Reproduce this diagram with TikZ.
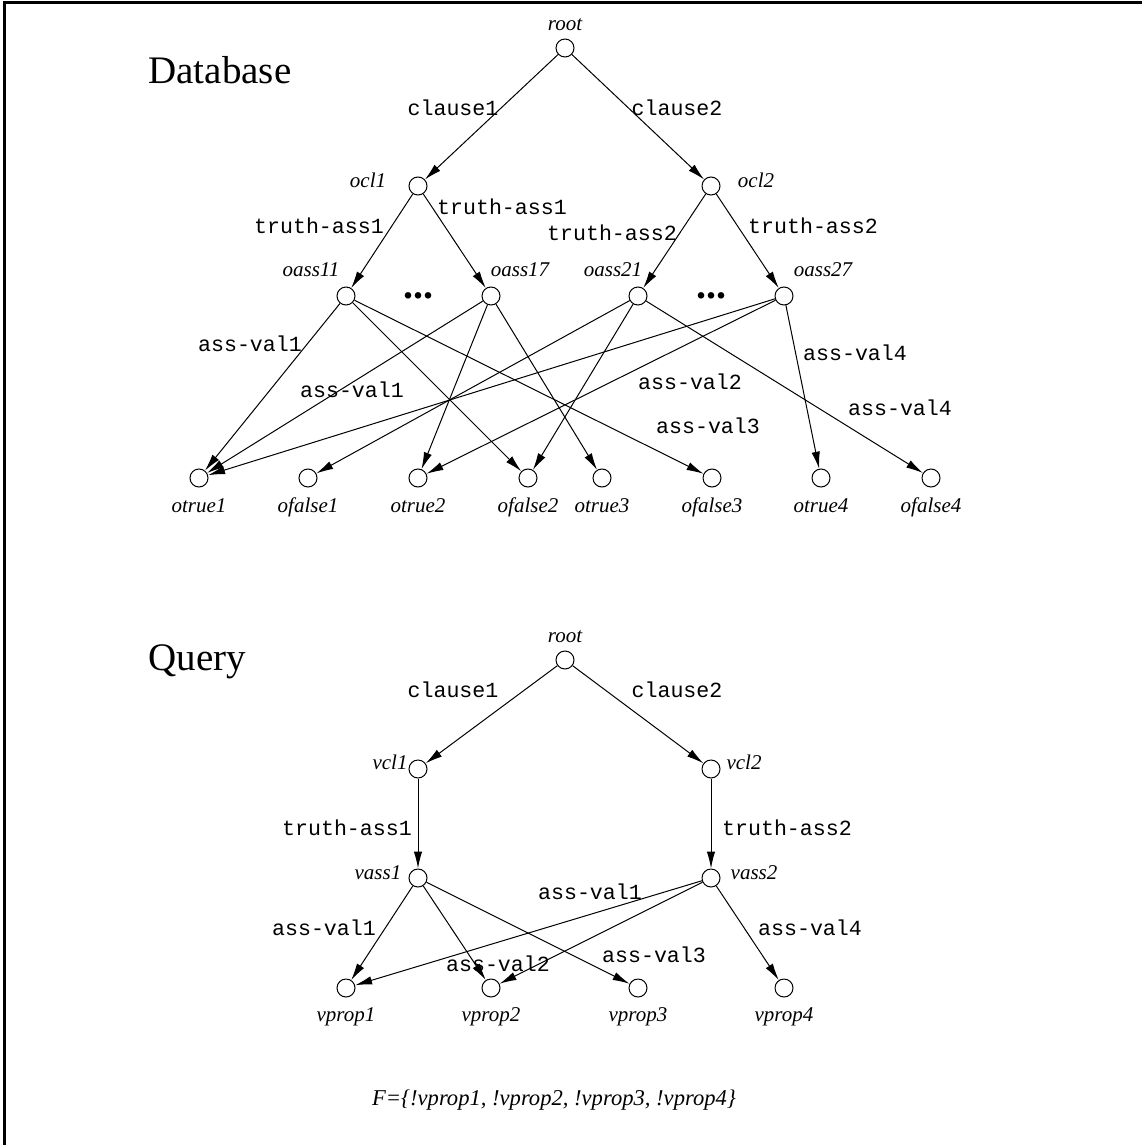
\documentclass[tikz,border=0pt]{standalone}
\usepackage{fontspec}
\setmainfont{Liberation Serif}
\setmonofont{Liberation Mono}
\usetikzlibrary{arrows.meta}

\tikzset{
  vtx/.style={circle, draw, line width=0.5pt, minimum size=9pt, inner sep=0pt},
  tag/.style={font=\fontsize{10.5}{12}\selectfont\itshape, inner sep=0pt,
    text height=1.5ex, text depth=.25ex},
  lbl/.style={font=\fontsize{10.8}{12}\selectfont\ttfamily, inner sep=0pt},
  heading/.style={font=\fontsize{19.5}{22}\selectfont, inner sep=0pt, anchor=base west},
  link/.style={->, line width=0.5pt},
}

\begin{document}
\begin{tikzpicture}[x=0.5pt, y=-0.5pt, >={Latex[length=8.5pt,width=4.2pt]}]
\useasboundingbox (0,0) rectangle (1142,1145);
\draw[line width=1.5pt] (4.5,1145) -- (4.5,3) -- (1142,3);

% database
\node[heading] (dbtitle) at (148,84) {Database};
\node[vtx] (droot) at (565,48) {};
\node[tag] at (565,25) {root};
\node[vtx] (ocl1) at (418,186) {};
\node[tag] at (368,182) {ocl1};
\node[vtx] (ocl2) at (711,186) {};
\node[tag] at (756,182) {ocl2};
\node[vtx] (oass11) at (346,296) {};
\node[tag] at (311,271) {oass11};
\node[vtx] (oass17) at (491,296) {};
\node[tag] at (520,271) {oass17};
\node[vtx] (oass21) at (638,296) {};
\node[tag] at (613,271) {oass21};
\node[vtx] (oass27) at (784,296) {};
\node[tag] at (823,271) {oass27};
\node[font=\fontsize{20}{20}\selectfont\bfseries, anchor=base] (dots1) at (418.5,298) {...};
\node[font=\fontsize{20}{20}\selectfont\bfseries, anchor=base] (dots2) at (711,298) {...};

\foreach \n/\x in {otrue1/199, ofalse1/308, otrue2/418, ofalse2/528,
                   otrue3/602, ofalse3/712, otrue4/821, ofalse4/931}
  {\node[vtx] (\n) at (\x,478) {};
   \node[tag] at (\x,507) {\n};}

\foreach \a/\b in {droot/ocl1, droot/ocl2, ocl1/oass11, ocl1/oass17,
                   ocl2/oass21, ocl2/oass27,
                   oass11/otrue1, oass11/ofalse2, oass11/ofalse3,
                   oass17/otrue1, oass17/otrue2, oass17/otrue3,
                   oass21/ofalse1, oass21/ofalse2, oass21/ofalse4,
                   oass27/otrue1, oass27/otrue2, oass27/otrue4}
  \draw[link] (\a) -- (\b);

\node[lbl] at (453,108) {clause1};
\node[lbl] at (677,108) {clause2};
\node[lbl] at (319,226) {truth-ass1};
\node[lbl] at (502,207) {truth-ass1};
\node[lbl] at (612,233) {truth-ass2};
\node[lbl] at (813,226) {truth-ass2};
\node[lbl] at (250,344) {ass-val1};
\node[lbl] at (352,390) {ass-val1};
\node[lbl] at (690,382) {ass-val2};
\node[lbl] at (708,426) {ass-val3};
\node[lbl] at (855,353) {ass-val4};
\node[lbl] at (900,408) {ass-val4};

% query
\node[heading] (qtitle) at (148,670) {Query};
\node[vtx] (qroot) at (565,660) {};
\node[tag] at (565,637) {root};
\node[vtx] (vcl1) at (418,769) {};
\node[tag] at (390,764) {vcl1};
\node[vtx] (vcl2) at (711,769) {};
\node[tag] at (744,764) {vcl2};
\node[vtx] (vass1) at (418,878) {};
\node[tag] at (378,874) {vass1};
\node[vtx] (vass2) at (711,878) {};
\node[tag] at (754,874) {vass2};

\foreach \n/\x in {vprop1/346, vprop2/491, vprop3/638, vprop4/784}
  {\node[vtx] (\n) at (\x,988) {};
   \node[tag] at (\x,1016) {\n};}

\foreach \a/\b in {qroot/vcl1, qroot/vcl2, vcl1/vass1, vcl2/vass2,
                   vass1/vprop1, vass1/vprop2, vass1/vprop3,
                   vass2/vprop1, vass2/vprop2, vass2/vprop4}
  \draw[link] (\a) -- (\b);

\node[lbl] at (453,690) {clause1};
\node[lbl] at (677,690) {clause2};
\node[lbl] at (347,828) {truth-ass1};
\node[lbl] at (787,828) {truth-ass2};
\node[lbl] at (324,928) {ass-val1};
\node[lbl] at (590,892) {ass-val1};
\node[lbl] at (498,964) {ass-val2};
\node[lbl] at (654,955) {ass-val3};
\node[lbl] at (810,928) {ass-val4};

\node[tag, font=\fontsize{11.3}{13}\selectfont\itshape] (formula) at (554,1100)
  {F=\{!vprop1, !vprop2, !vprop3, !vprop4\}};
\end{tikzpicture}
\end{document}
